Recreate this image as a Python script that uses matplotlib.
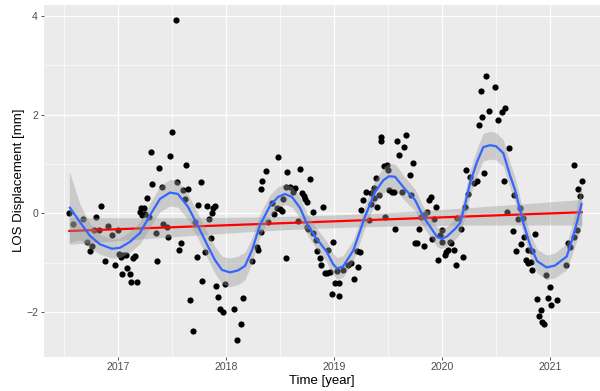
import numpy as np
import matplotlib
matplotlib.use("Agg")
import matplotlib.pyplot as plt

# LOS displacement time series (decimal year, mm)
obs_time = [
    2016.540, 2016.577, 2016.676, 2016.713, 2016.740, 2016.758, 2016.778, 2016.793, 2016.824, 2016.840,
    2016.874, 2016.906, 2016.942, 2016.974, 2016.993, 2017.005, 2017.025, 2017.046, 2017.067, 2017.039,
    2017.085, 2017.104, 2017.122, 2017.141, 2017.155, 2017.169, 2017.201, 2017.215, 2017.235, 2017.220,
    2017.250, 2017.287, 2017.269, 2017.300, 2017.315, 2017.374, 2017.352, 2017.363, 2017.402, 2017.417,
    2017.449, 2017.463, 2017.482, 2017.498, 2017.532, 2017.547, 2017.563, 2017.581, 2017.597, 2017.614,
    2017.632, 2017.643, 2017.662, 2017.695, 2017.711, 2017.729, 2017.743, 2017.762, 2017.778, 2017.805,
    2017.825, 2017.842, 2017.859, 2017.866, 2017.880, 2017.896, 2017.905, 2017.924, 2017.940, 2017.973,
    2017.991, 2018.072, 2018.102, 2018.139, 2018.154, 2018.241, 2018.285, 2018.299, 2018.322, 2018.320,
    2018.335, 2018.369, 2018.387, 2018.422, 2018.440, 2018.468, 2018.503, 2018.520, 2018.483, 2018.524,
    2018.550, 2018.551, 2018.565, 2018.589, 2018.619, 2018.638, 2018.667, 2018.681, 2018.701, 2018.718,
    2018.730, 2018.746, 2018.747, 2018.758, 2018.779, 2018.800, 2018.807, 2018.828, 2018.842, 2018.865,
    2018.879, 2018.897, 2018.916, 2018.934, 2018.944, 2018.962, 2018.976, 2018.993, 2019.004, 2019.024,
    2019.041, 2019.041, 2019.083, 2019.126, 2019.155, 2019.187, 2019.210, 2019.223, 2019.242, 2019.252,
    2019.272, 2019.294, 2019.323, 2019.340, 2019.342, 2019.370, 2019.373, 2019.388, 2019.400, 2019.419,
    2019.430, 2019.439, 2019.462, 2019.487, 2019.503, 2019.471, 2019.513, 2019.534, 2019.555, 2019.567,
    2019.581, 2019.599, 2019.627, 2019.651, 2019.666, 2019.699, 2019.710, 2019.731, 2019.754, 2019.768,
    2019.787, 2019.805, 2019.833, 2019.836, 2019.858, 2019.880, 2019.895, 2019.910, 2019.930, 2019.947,
    2019.963, 2019.977, 2019.997, 2020.003, 2020.031, 2020.040, 2020.058, 2020.074, 2020.086, 2020.111,
    2020.127, 2020.142, 2020.174, 2020.192, 2020.213, 2020.222, 2020.241, 2020.255, 2020.297, 2020.324,
    2020.340, 2020.359, 2020.373, 2020.389, 2020.408, 2020.438, 2020.488, 2020.521, 2020.556, 2020.586,
    2020.570, 2020.602, 2020.619, 2020.655, 2020.669, 2020.684, 2020.700, 2020.725, 2020.729, 2020.751,
    2020.763, 2020.778, 2020.800, 2020.800, 2020.822, 2020.832, 2020.831, 2020.865, 2020.882, 2020.916,
    2020.899, 2020.930, 2020.941, 2020.964, 2020.980, 2020.998, 2021.013, 2021.061, 2021.149, 2021.163,
    2021.184, 2021.226, 2021.248, 2021.226, 2021.263, 2021.276, 2021.293,
]
obs_disp = [
    0.00, -0.22, -0.12, -0.59, -0.76, -0.66, -0.35, -0.07, -0.35, 0.14,
    -0.96, -0.25, -0.45, -1.04, -0.33, -0.83, -0.88, -0.85, -0.84, -1.23,
    -1.12, -1.23, -1.39, -0.90, -0.87, -1.39, 0.02, 0.11, 0.10, -0.03,
    -0.02, -0.07, 0.31, 1.25, 0.59, 0.92, -0.41, -0.97, 0.53, -0.21,
    -0.27, -0.48, 1.16, 1.64, 3.91, 0.63, -0.74, -0.61, 0.48, 0.28,
    0.98, 0.49, -1.75, -2.39, -0.18, -0.88, 0.16, 0.63, -1.38, -0.78,
    0.14, -0.11, -0.51, 0.01, 0.11, 0.14, -1.48, -1.70, -1.95, -2.00,
    -1.44, -1.94, -2.58, -2.25, -1.72, -0.96, -0.68, -0.75, -0.39, 0.49,
    0.65, 0.86, -0.18, 0.20, -0.02, 0.10, 0.08, 0.05, 1.14, 0.28,
    0.53, -0.91, 0.84, 0.53, 0.44, 0.51, -0.16, 0.90, 0.41, 0.34,
    0.29, 0.23, -0.27, -0.31, 0.70, 0.03, -0.41, -0.54, -0.77, -0.91,
    -1.05, 0.12, -1.21, -1.21, -0.75, -1.19, -1.63, -0.59, -1.41, -1.18,
    -1.41, -1.68, -1.15, -1.04, -1.00, -1.34, -0.76, -1.09, -0.79, 0.07,
    0.27, 0.44, -0.14, 0.18, 0.41, 0.51, 0.30, 0.71, 0.13, 0.38,
    1.54, 1.47, 0.95, 0.98, 0.88, -0.07, 0.48, 0.44, 0.43, -0.32,
    1.47, 1.18, 0.43, 1.35, 1.59, 0.78, 0.38, 1.01, -0.60, -0.61,
    -0.32, -0.08, -0.66, -0.04, 0.03, 0.27, 0.33, -0.52, -0.11, 0.13,
    -0.95, -0.44, -0.33, -0.58, -0.85, -0.79, -0.75, -0.58, -0.61, -0.74,
    -1.04, -0.10, -0.32, -0.89, 0.13, 0.88, 0.40, 0.74, 0.62, 0.66,
    1.79, 2.48, 1.95, 0.82, 2.78, 2.08, 2.56, 1.89, 2.05, 2.14,
    0.66, 0.03, 1.33, -0.37, 0.36, -0.76, -0.12, 0.11, -0.62, -0.10,
    -0.49, -0.95, -0.74, -1.00, -0.98, -0.77, -1.15, -0.42, -1.74, -1.96,
    -2.08, -2.20, -2.25, -1.26, -1.71, -1.49, -1.86, -1.75, -1.05, -0.61,
    -0.68, -0.48, -0.35, 0.98, 0.49, 0.35, 0.66,
]

# loess smooth (blue) and half width of its confidence band
smooth_time = [
    2016.546, 2016.645, 2016.738, 2016.830, 2016.942, 2017.016, 2017.108, 2017.201, 2017.294, 2017.386,
    2017.479, 2017.553, 2017.646, 2017.741, 2017.831, 2017.896, 2017.961, 2018.035, 2018.109, 2018.174,
    2018.239, 2018.313, 2018.406, 2018.480, 2018.545, 2018.610, 2018.684, 2018.746, 2018.832, 2018.931,
    2018.990, 2019.027, 2019.083, 2019.179, 2019.286, 2019.379, 2019.456, 2019.509, 2019.564, 2019.657,
    2019.750, 2019.824, 2019.889, 2019.954, 2019.995, 2020.046, 2020.120, 2020.167, 2020.213, 2020.259,
    2020.324, 2020.382, 2020.444, 2020.500, 2020.568, 2020.630, 2020.677, 2020.754, 2020.816, 2020.881,
    2020.970, 2021.047, 2021.112, 2021.155, 2021.205, 2021.251, 2021.295,
]
smooth_disp = [
    0.13, -0.18, -0.46, -0.63, -0.72, -0.70, -0.58, -0.40, -0.04, 0.29,
    0.42, 0.39, 0.13, -0.27, -0.67, -0.95, -1.15, -1.20, -1.16, -1.07,
    -0.75, -0.24, 0.15, 0.33, 0.39, 0.33, 0.11, -0.20, -0.50, -0.78,
    -1.03, -1.12, -1.08, -0.75, -0.07, 0.43, 0.67, 0.75, 0.74, 0.49,
    0.27, -0.06, -0.27, -0.48, -0.52, -0.47, -0.32, -0.20, 0.17, 0.61,
    1.04, 1.34, 1.38, 1.36, 1.22, 0.77, 0.47, -0.20, -0.64, -0.97,
    -1.10, -1.06, -0.95, -0.88, -0.54, -0.18, 0.21,
]
smooth_band = [
    0.72, 0.36, 0.25, 0.20, 0.19, 0.20, 0.21, 0.22, 0.24, 0.26,
    0.27, 0.27, 0.26, 0.25, 0.26, 0.27, 0.28, 0.29, 0.29, 0.28,
    0.25, 0.23, 0.22, 0.21, 0.21, 0.21, 0.21, 0.21, 0.21, 0.21,
    0.22, 0.22, 0.22, 0.21, 0.22, 0.24, 0.26, 0.26, 0.26, 0.24,
    0.22, 0.21, 0.20, 0.20, 0.20, 0.20, 0.21, 0.22, 0.24, 0.26,
    0.27, 0.28, 0.28, 0.28, 0.27, 0.26, 0.25, 0.23, 0.23, 0.24,
    0.25, 0.25, 0.26, 0.27, 0.30, 0.36, 0.45,
]

# linear trend (red), end values
trend_time = [2016.546, 2021.295]
trend_disp = [-0.36, 0.02]

t = np.array(obs_time)
d = np.array(obs_disp)

# 95% confidence band of the linear trend from the residuals
n = len(t)
slope = (trend_disp[1] - trend_disp[0]) / (trend_time[1] - trend_time[0])
icpt = trend_disp[0] - slope * trend_time[0]
resid = d - (icpt + slope * t)
s = np.sqrt(np.sum(resid ** 2) / (n - 2))
tx = np.linspace(trend_time[0], trend_time[1], 100)
fit = icpt + slope * tx
se = s * np.sqrt(1.0 / n + (tx - t.mean()) ** 2 / np.sum((t - t.mean()) ** 2))
half = 1.97 * se

plt.rcParams["font.family"] = ["Liberation Sans", "DejaVu Sans"]

fig = plt.figure(figsize=(6, 3.91), dpi=100)
ax = fig.add_axes([0.0725, 0.0877, 0.9275, 0.9003])
ax.set_facecolor("#EBEBEB")
for sp in ax.spines.values():
    sp.set_visible(False)

ax.scatter(t, d, s=20, color="black", linewidths=0, zorder=2)

band_col = (0.6, 0.6, 0.6, 0.4)
ax.fill_between(tx, fit - half, fit + half, color=band_col, linewidth=0, zorder=3)
ax.plot(tx, fit, color="red", lw=1.6, zorder=4)

st = np.array(smooth_time)
sy = np.array(smooth_disp)
sb = np.array(smooth_band)
ax.fill_between(st, sy - sb, sy + sb, color=band_col, linewidth=0, zorder=5)
ax.plot(st, sy, color="#3366FF", lw=1.6, zorder=6, solid_capstyle="butt")

ax.set_xlim(2016.307, 2021.464)
ax.set_ylim(-2.91, 4.23)
ax.set_xticks([2017, 2018, 2019, 2020, 2021])
ax.set_xticklabels(["2017", "2018", "2019", "2020", "2021"])
ax.set_xticks([2016.5, 2017.5, 2018.5, 2019.5, 2020.5], minor=True)
ax.set_yticks([-2, 0, 2, 4])
ax.set_yticks([-1, 1, 3], minor=True)

ax.grid(which="major", color="white", lw=0.9)
ax.grid(which="minor", color="white", lw=0.45)
ax.set_axisbelow(True)
ax.tick_params(which="major", length=2.4, width=0.6, color="#333333",
               labelcolor="#4D4D4D", labelsize=7.6, pad=1.5)
ax.tick_params(which="minor", length=0)

ax.set_xlabel("Time [year]", fontsize=9.5, labelpad=2)
ax.set_ylabel("LOS Displacement [mm]", fontsize=9.5, labelpad=1)

fig.savefig("out.png", dpi=100)
